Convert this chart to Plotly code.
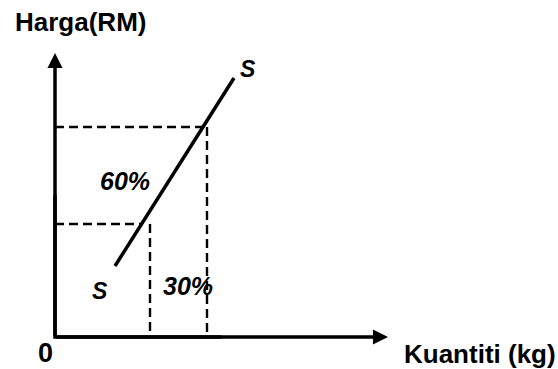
import plotly.graph_objects as go

# ---- data (chart units; origin "0" at the corner of the axes) ----
x_axis_end = 333          # Kuantiti axis length
y_axis_end = 284          # Harga axis length
supply_qty = [60, 179]    # S curve quantities (start, end)
supply_price = [71, 259]  # S curve prices (start, end)
price_levels = [113, 210]  # lower / upper price (dashed horizontals)
hline_qty_end = [88, 152]  # where the dashed horizontals stop
qty_levels = [95, 152]     # lower / upper quantity (dashed verticals)

labels = ["60%", "30%"]
label_q = [70, 133]
label_p = [156, 51]
s_label_q = [45, 193]
s_label_p = [46, 268]

FONT = "Liberation Sans, Arial, sans-serif"
BLACK = "#000000"

fig = go.Figure()

# axes corner (the long axis lines are drawn by the arrow annotations)
fig.add_trace(go.Scatter(
    x=[0, 0, x_axis_end / 2], y=[y_axis_end / 2, 0, 0], mode="lines",
    line=dict(color=BLACK, width=3.5), hoverinfo="skip", showlegend=False))

# dashed guide lines
for i in range(2):
    fig.add_trace(go.Scatter(
        x=[0, hline_qty_end[i]], y=[price_levels[i], price_levels[i]], mode="lines",
        line=dict(color=BLACK, width=2.4, dash="9px,5px"), hoverinfo="skip", showlegend=False))
    fig.add_trace(go.Scatter(
        x=[qty_levels[i], qty_levels[i]], y=[price_levels[i], 0], mode="lines",
        line=dict(color=BLACK, width=2.4, dash="9px,5px"), hoverinfo="skip", showlegend=False))

# supply curve
fig.add_trace(go.Scatter(
    x=supply_qty, y=supply_price, mode="lines",
    line=dict(color=BLACK, width=3.5), hoverinfo="skip", showlegend=False))

annotations = []
# axis arrows
annotations.append(dict(x=0, y=y_axis_end, ax=0, ay=0, xref="x", yref="y", axref="x", ayref="y",
                        text="", showarrow=True, arrowhead=2, arrowsize=0.86, arrowwidth=3.5,
                        arrowcolor=BLACK))
annotations.append(dict(x=x_axis_end, y=0, ax=0, ay=0, xref="x", yref="y", axref="x", ayref="y",
                        text="", showarrow=True, arrowhead=2, arrowsize=0.86, arrowwidth=3.5,
                        arrowcolor=BLACK))

# axis titles and origin
annotations.append(dict(x=-42, y=315, xref="x", yref="y", xanchor="left", yanchor="middle",
                        text="<b>Harga(RM)</b>", showarrow=False,
                        font=dict(family=FONT, size=26, color=BLACK)))
annotations.append(dict(x=347, y=-17, xref="x", yref="y", xanchor="left", yanchor="middle",
                        text="<b>Kuantiti (kg)</b>", showarrow=False,
                        font=dict(family=FONT, size=26, color=BLACK)))
annotations.append(dict(x=-9.5, y=-16, xref="x", yref="y", xanchor="center", yanchor="middle",
                        text="<b>0</b>", showarrow=False,
                        font=dict(family=FONT, size=27, color=BLACK)))

for t, q, p in zip(labels, label_q, label_p):
    annotations.append(dict(x=q, y=p, xref="x", yref="y", xanchor="center", yanchor="middle",
                            text=f"<b><i>{t}</i></b>", showarrow=False,
                            font=dict(family=FONT, size=25, color=BLACK)))
for q, p in zip(s_label_q, s_label_p):
    annotations.append(dict(x=q, y=p, xref="x", yref="y", xanchor="center", yanchor="middle",
                            text="<b><i>S</i></b>", showarrow=False,
                            font=dict(family=FONT, size=23, color=BLACK)))

fig.update_layout(
    width=558, height=369,
    margin=dict(l=0, r=0, t=0, b=0),
    paper_bgcolor="white", plot_bgcolor="white",
    xaxis=dict(range=[-55, 503], visible=False, fixedrange=True),
    yaxis=dict(range=[-32, 337], visible=False, fixedrange=True),
    annotations=annotations,
    showlegend=False,
)

fig.write_html(
    "out.html",
    config={"displayModeBar": False},
    post_script="document.body.style.margin='0';document.body.style.overflow='hidden';",
)
